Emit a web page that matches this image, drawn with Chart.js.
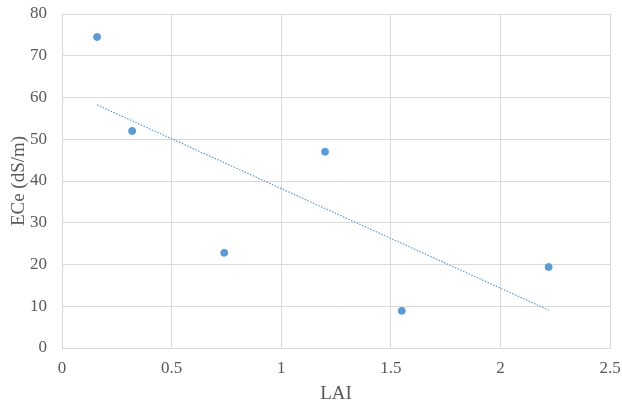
<!DOCTYPE html>
<html><head><meta charset="utf-8">
<script src="https://cdn.jsdelivr.net/npm/chart.js@4"></script>
<style>html,body{margin:0;padding:0;background:#fff}#w{width:622px;height:407px}</style>
</head><body><div id="w"><canvas id="c"></canvas></div>
<script>
const laiValues = [0.16, 0.32, 0.74, 1.2, 1.55, 2.22];
const eceValues = [74.5, 52, 22.8, 47, 8.9, 19.4];
const xTicks = [0, 0.5, 1, 1.5, 2, 2.5];
const yTicks = [0, 10, 20, 30, 40, 50, 60, 70, 80];

const n = laiValues.length;
const mx = laiValues.reduce((a,b)=>a+b,0)/n, my = eceValues.reduce((a,b)=>a+b,0)/n;
let sxy=0,sxx=0;
for(let i=0;i<n;i++){sxy+=(laiValues[i]-mx)*(eceValues[i]-my);sxx+=(laiValues[i]-mx)**2;}
const slope=sxy/sxx, icpt=my-slope*mx;
const xmin=Math.min(...laiValues), xmax=Math.max(...laiValues);
const trend=[{x:xmin,y:icpt+slope*xmin},{x:xmax,y:icpt+slope*xmax}];

const tickFont={family:'"Liberation Serif", "Times New Roman", serif',size:17};
const titleFont={family:'"Liberation Serif", "Times New Roman", serif',size:19};
new Chart(document.getElementById('c'),{
  type:'scatter',
  data:{datasets:[
    {data:laiValues.map((x,i)=>({x,y:eceValues[i]})),backgroundColor:'#5b9bd5',borderColor:'#5b9bd5',pointRadius:3.5,pointHoverRadius:3.5},
    {type:'line',data:trend,borderColor:'#5b9bd5',borderWidth:1.2,borderDash:[1.5,1.5],pointRadius:0,fill:false}
  ]},
  options:{
    responsive:true,maintainAspectRatio:false,animation:false,
    layout:{padding:{left:0,right:12,top:14,bottom:0}},
    plugins:{legend:{display:false},tooltip:{enabled:false}},
    scales:{
      x:{type:'linear',min:0,max:2.5,
        afterBuildTicks:s=>{s.ticks=xTicks.map(v=>({value:v}));},
        afterFit:s=>{s.height=59;s.paddingLeft=0;s.paddingRight=0;},
        ticks:{color:'#595959',font:tickFont,padding:10,callback:v=>String(v)},
        grid:{color:'#d9d9d9',lineWidth:1,drawTicks:false},
        border:{color:'#d9d9d9'},
        title:{display:true,text:'LAI',color:'#595959',font:titleFont,padding:{top:2,bottom:2}}},
      y:{type:'linear',min:0,max:80,
        afterBuildTicks:s=>{s.ticks=yTicks.map(v=>({value:v}));},
        afterFit:s=>{s.width=62;s.paddingTop=0;s.paddingBottom=0;},
        ticks:{color:'#595959',font:tickFont,padding:15},
        grid:{color:'#d9d9d9',lineWidth:1,drawTicks:false},
        border:{color:'#d9d9d9'},
        title:{display:true,text:'ECe (dS/m)',color:'#595959',font:titleFont,padding:{top:8,bottom:4}}}
    }
  }
});
</script></body></html>
